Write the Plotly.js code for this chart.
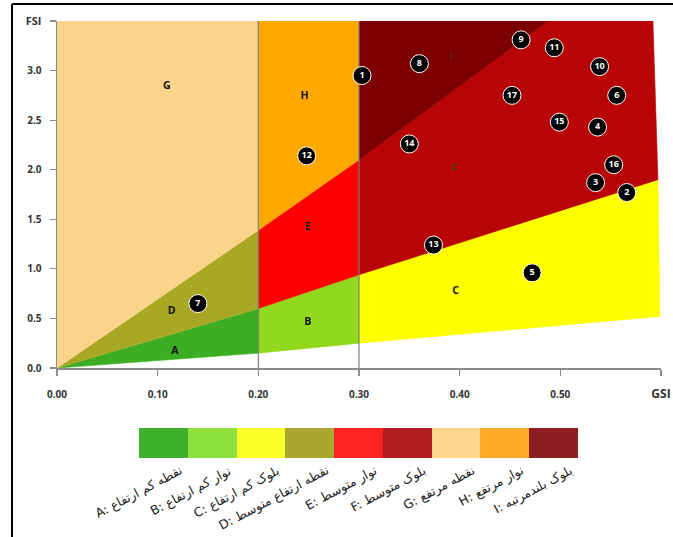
<!DOCTYPE html>
<html>
<head>
<meta charset="utf-8">
<script src="https://cdn.plot.ly/plotly-3.0.1.min.js"></script>
<style>html,body{margin:0;padding:0;background:#fff;}#chart{width:673px;height:537px;}</style>
</head>
<body>
<div id="chart"></div>
<script>
// ---- Data ----
const regionNames = ['A','B','C','D','E','F','G','H','I'];
const regionColors = ['#3dae24','#92d81c','#ffff00','#a9a824','#ff0000','#b80404','#fbd48b','#ffa800','#7c0000'];
const regionGSI = [
  [0, 0.2, 0.2],
  [0.2, 0.3, 0.3, 0.2],
  [0.3, 0.599, 0.597, 0.3],
  [0, 0.2, 0.2],
  [0.2, 0.3, 0.3, 0.2],
  [0.3, 0.597, 0.592, 0.488, 0.3],
  [0, 0.2, 0.2, 0],
  [0.2, 0.3, 0.3, 0.2],
  [0.3, 0.488, 0.3]
];
const regionFSI = [
  [0, 0.15, 0.6],
  [0.15, 0.25, 0.94, 0.6],
  [0.25, 0.52, 1.9, 0.94],
  [0, 0.6, 1.39],
  [0.6, 0.94, 2.1, 1.39],
  [0.94, 1.9, 3.5, 3.5, 2.1],
  [0, 1.39, 3.5, 3.5],
  [1.39, 2.1, 3.5, 3.5],
  [2.1, 3.5, 3.5]
];
const letterGSI = [0.117, 0.249, 0.396, 0.114, 0.249, 0.395, 0.109, 0.246, 0.392];
const letterFSI = [0.17, 0.46, 0.77, 0.57, 1.42, 2.0, 2.84, 2.74, 3.13];
const letterColors = ['#111','#111','#111','#111','#111','#5a3a10','#111','#111','#4a2a10'];

const pointIds  = ['1','2','3','4','5','6','7','8','9','10','11','12','13','14','15','16','17'];
const pointGSI  = [0.303,0.566,0.535,0.537,0.472,0.556,0.140,0.360,0.461,0.539,0.494,0.248,0.374,0.350,0.499,0.553,0.452];
const pointFSI  = [2.95, 1.77, 1.87, 2.43, 0.96, 2.75, 0.65, 3.07, 3.31, 3.04, 3.23, 2.14, 1.24, 2.26, 2.48, 2.05, 2.75];

const dividerGSI = [0.2, 0.3];

const xTickVals = [0, 0.1, 0.2, 0.3, 0.4, 0.5, 0.6];
const xTickText = ['0.00','0.10','0.20','0.30','0.40','0.50','<span style="font-size:12px">GSI</span>'];
const yTickVals = [0, 0.5, 1.0, 1.5, 2.0, 2.5, 3.0, 3.5];
const yTickText = ['0.0','0.5','1.0','1.5','2.0','2.5','3.0','<span style="font-size:11px">FSI</span>'];

const legendColors = ['#3cb02c','#8ee03c','#ffff2a','#a8a830','#ff2222','#b01e22','#fdd690','#fdaa2a','#8e1e22'];
const legendLabels = [
  'A: نقطه کم ارتفاع',
  'B: نوار کم ارتفاع',
  'C: بلوک کم ارتفاع',
  'D: نقطه ارتفاع متوسط',
  'E: نوار متوسط',
  'F: بلوک متوسط',
  'G: نقطه مرتفع',
  'H: نوار مرتفع',
  'I: بلوک بلندمرتبه'
];

// ---- Traces ----
const W = 673, H = 537;
const traces = [];
regionNames.forEach((n, i) => {
  traces.push({
    type: 'scatter', mode: 'lines', x: regionGSI[i], y: regionFSI[i],
    fill: 'toself', fillcolor: regionColors[i],
    line: {width: 0.6, color: regionColors[i]}, hoverinfo: 'skip', showlegend: false
  });
});
dividerGSI.forEach(g => {
  traces.push({
    type: 'scatter', mode: 'lines', x: [g, g], y: [0, 3.5],
    line: {width: 1.2, color: '#7f7f7f'}, hoverinfo: 'skip', showlegend: false
  });
});
traces.push({
  type: 'scatter', mode: 'text', x: letterGSI, y: letterFSI, text: regionNames,
  textfont: {family: 'Open Sans', size: 10.5, color: letterColors, weight: 'bold'},
  textposition: 'middle center', hoverinfo: 'skip', showlegend: false, cliponaxis: false
});
traces.push({
  type: 'scatter', mode: 'markers+text', x: pointGSI, y: pointFSI, text: pointIds,
  marker: {size: 18, color: '#000', line: {color: '#ffffff', width: 1}},
  textfont: {family: 'Open Sans', size: 9, color: '#fff', weight: 'bold'},
  textposition: 'middle center', hoverinfo: 'skip', showlegend: false, cliponaxis: false
});
// legend color bar
traces.push({
  type: 'bar', x: regionNames.map((n, i) => i), y: regionNames.map(() => 1),
  xaxis: 'x2', yaxis: 'y2', width: 1,
  marker: {color: legendColors, line: {width: 0}}, hoverinfo: 'skip', showlegend: false
});

const annotations = legendLabels.map((t, i) => ({
  text: t, xref: 'x2', yref: 'paper', x: i + 0.5, y: (H - 460) / H,
  xanchor: 'right', yanchor: 'top', textangle: -28, showarrow: false,
  font: {family: 'DejaVu Sans', size: 12.5, color: '#222'}
}));

const tickFont = {family: 'Open Sans', size: 10, color: '#333333', weight: 'bold'};
const layout = {
  width: W, height: H,
  margin: {l: 0, r: 0, t: 0, b: 0},
  paper_bgcolor: '#ffffff', plot_bgcolor: 'rgba(0,0,0,0)',
  showlegend: false,
  xaxis: {
    domain: [57 / W, 661 / W], range: [0, 0.6], tickvals: xTickVals, ticktext: xTickText,
    showline: true, linecolor: '#8c8c8c', linewidth: 1.5, ticks: 'outside', ticklen: 6,
    tickcolor: '#8c8c8c', tickwidth: 1.2, showgrid: false, zeroline: false,
    tickfont: tickFont, ticklabelstandoff: 10, fixedrange: true
  },
  yaxis: {
    domain: [(H - 368) / H, (H - 21) / H], range: [0, 3.5], tickvals: yTickVals, ticktext: yTickText,
    showline: true, linecolor: '#8c8c8c', linewidth: 1.5, ticks: 'outside', ticklen: 6,
    tickcolor: '#8c8c8c', tickwidth: 1.2, showgrid: false, zeroline: false,
    tickfont: tickFont, ticklabelstandoff: 6, fixedrange: true
  },
  xaxis2: {domain: [139 / W, 578 / W], range: [-0.5, 8.5], visible: false, anchor: 'y2'},
  yaxis2: {domain: [(H - 458) / H, (H - 428) / H], range: [0, 1], visible: false, anchor: 'x2'},
  bargap: 0,
  annotations: annotations,
  shapes: [
    {type: 'line', xref: 'paper', yref: 'paper', x0: 12 / W, x1: 12 / W, y0: 0, y1: 1 - 4 / H, line: {color: '#000', width: 2}},
    {type: 'line', xref: 'paper', yref: 'paper', x0: 12 / W, x1: 1, y0: 1 - 4 / H, y1: 1 - 4 / H, line: {color: '#000', width: 2}}
  ]
};

Plotly.newPlot('chart', traces, layout, {displayModeBar: false, staticPlot: true});
</script>
</body>
</html>
